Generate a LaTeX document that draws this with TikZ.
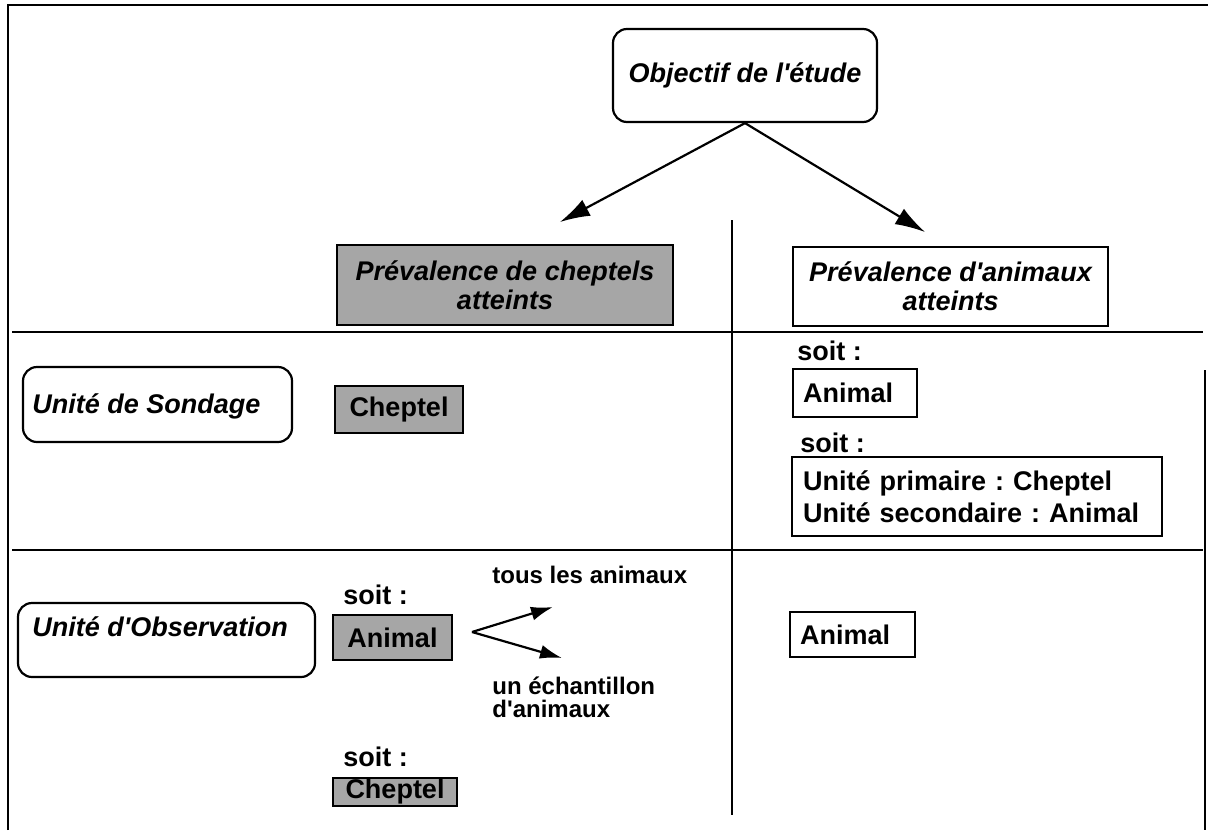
\documentclass[tikz,border=0pt]{standalone}
\usepackage{fontspec}
\setmainfont{Liberation Sans}
\usetikzlibrary{arrows.meta}
\frenchspacing
\newcommand\fsz{\fontsize{13.5}{14.5}\selectfont}
\newcommand\fszb{\fontsize{13.5}{16}\selectfont}
\newcommand\fszs{\fontsize{12}{11.5}\selectfont}
\begin{document}
\begin{tikzpicture}[x=0.5pt,y=-0.5pt,
  frame/.style={line width=1.1pt},
  box/.style={draw,line width=1.1pt,inner sep=0pt,font=\fsz\bfseries},
  ibox/.style={box,font=\fsz\bfseries\itshape,align=center},
  rbox/.style={draw,line width=1.1pt,rounded corners=7pt,inner sep=0pt},
  shd/.style={fill=black!35},
  lbl/.style={font=\fsz\bfseries,inner sep=0pt,anchor=west},
  itl/.style={font=\fsz\bfseries\itshape,inner sep=0pt,anchor=west},
  sml/.style={font=\fszs\bfseries,inner sep=0pt,anchor=west,align=left},
  arr/.style={line width=1.1pt,-{Latex[length=15pt,width=9pt]}},
  sarr/.style={line width=1.1pt,-{Latex[length=11pt,width=7pt]}}]
\useasboundingbox (0,0) rectangle (1208,830);
% frame and grid
\draw[frame] (8,830) -- (8,5) -- (1208,5);
\draw[frame] (1205,370) -- (1205,830);
\draw[frame] (12,332) -- (1203,332);
\draw[frame] (12,550) -- (1203,550);
\draw[frame] (732,220) -- (732,815);
% top
\node[rbox,minimum width=132pt,minimum height=46.5pt,font=\fsz\bfseries\itshape] (obj) at (745,75.5) {Objectif de l\textquotesingle étude};
\node[ibox,shd,minimum width=168pt,minimum height=40pt] (pc) at (505,285) {Prévalence de cheptels\\atteints};
\node[ibox,minimum width=157.5pt,minimum height=39.5pt] (pa) at (950.5,286.5) {Prévalence d\textquotesingle animaux\\atteints};
\coordinate (tL) at (560,222);
\coordinate (tR) at (925,232);
\draw[arr] (obj.south) -- (tL);
\draw[arr] (obj.south) -- (tR);
% row: unite de sondage
\node[rbox,minimum width=134.5pt,minimum height=37.5pt] (sond) at (157.5,404.5) {};
\node[itl] (sondt) at (32,406) {Unité de Sondage};
\node[box,shd,minimum width=64pt,minimum height=23.5pt] (chep1) at (399,409.5) {Cheptel};
\node[lbl] (soit1) at (797,351) {soit :};
\node[box,minimum width=62pt,minimum height=24pt,inner xsep=5pt,text width=52pt,align=left] (anim1) at (855,393) {Animal};
\node[lbl] (soit2) at (800,443) {soit :};
\node[box,font=\fszb\bfseries,inner xsep=5.5pt,text width=174pt,align=left,minimum height=39.5pt] (uprim) at (977,496.5) {Unité primaire : Cheptel\\Unité secondaire : Animal};
% row: unite d'observation
\node[rbox,minimum width=148.5pt,minimum height=37pt] (obs) at (166.5,640) {};
\node[itl] (obst) at (32,627) {Unité d\textquotesingle Observation};
\node[lbl] (soit3) at (343,595) {soit :};
\node[box,shd,minimum width=59.5pt,minimum height=22.5pt] (anim2) at (392.5,637.5) {Animal};
\coordinate (fork) at (472,632);
\coordinate (t1) at (553,607);
\coordinate (t2) at (562,658);
\draw[sarr] (fork) -- (t1);
\draw[sarr] (fork) -- (t2);
\node[sml] (tous) at (492,575) {tous les animaux};
\node[sml] (ech) at (492,697) {un échantillon\\d\textquotesingle animaux};
\node[lbl] (soit4) at (343,757) {soit :};
\node[box,shd,minimum width=62pt,minimum height=14pt] (chep2) at (395,792) {Cheptel};
\node[box,minimum width=62.5pt,minimum height=22.5pt,inner xsep=5pt,text width=52.5pt,align=left] (anim3) at (852.5,634.5) {Animal};
\end{tikzpicture}
\end{document}
